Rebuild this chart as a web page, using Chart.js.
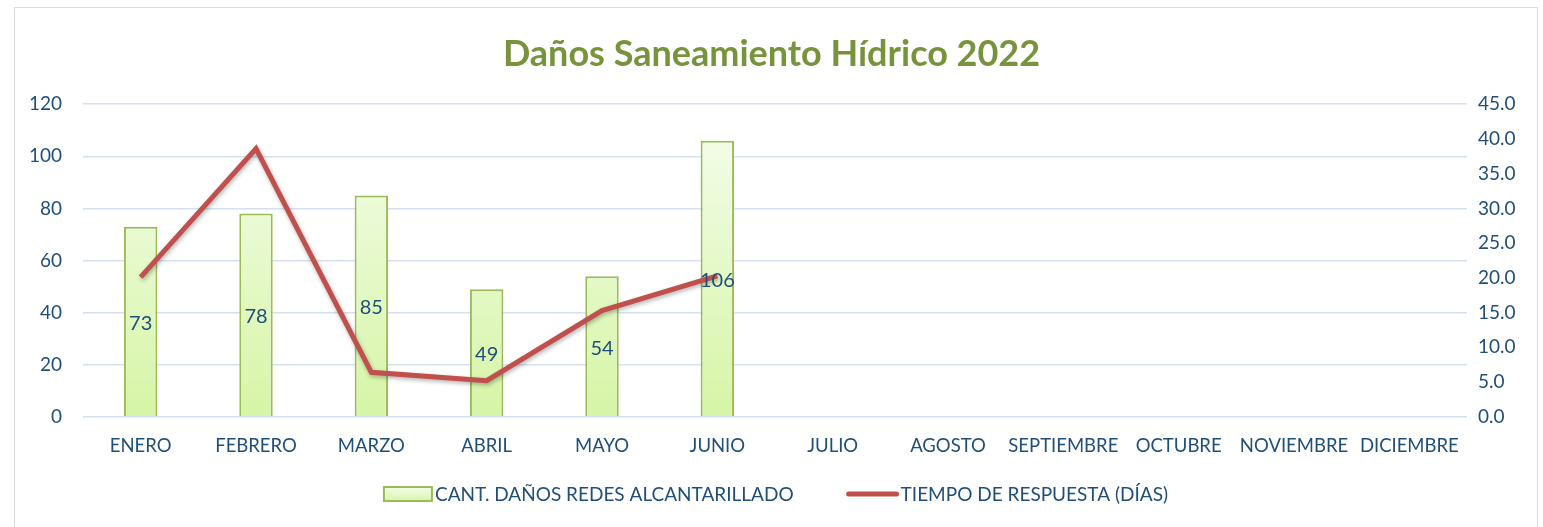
<!DOCTYPE html>
<html>
<head>
<meta charset="utf-8">
<script src="https://cdn.jsdelivr.net/npm/chart.js@4"></script>
<style>
  html, body { margin: 0; padding: 0; background: #fff; }
  #wrap { position: relative; width: 1543px; height: 527px; }
  #frame { position: absolute; left: 14px; top: 7px; width: 1522px; height: 530px; border: 1px solid #d9dde3; pointer-events: none; }
</style>
</head>
<body>
<div id="wrap">
  <canvas id="myChart" width="1543" height="527"></canvas>
  <div id="frame"></div>
</div>
<script>
var meses = ['ENERO', 'FEBRERO', 'MARZO', 'ABRIL', 'MAYO', 'JUNIO', 'JULIO', 'AGOSTO', 'SEPTIEMBRE', 'OCTUBRE', 'NOVIEMBRE', 'DICIEMBRE'];
var danos = [73, 78, 85, 49, 54, 106, null, null, null, null, null, null];
var tiempo = [20.1, 38.6, 6.4, 5.2, 15.3, 20.3, null, null, null, null, null, null];

var azul = '#1F4E79';
var fuente = 'Lato, "Open Sans", sans-serif';

// etiquetas de valor en el centro de cada barra
var etiquetas = {
  id: 'etiquetas',
  afterDatasetsDraw: function(chart) {
    var ctx = chart.ctx;
    var meta = chart.getDatasetMeta(0);
    ctx.save();
    ctx.font = '20px ' + fuente;
    ctx.fillStyle = azul;
    ctx.textAlign = 'center';
    ctx.textBaseline = 'middle';
    meta.data.forEach(function(bar, i) {
      if (danos[i] == null) return;
      ctx.fillText(danos[i], bar.x, (bar.y + bar.base) / 2 + 2);
    });
    ctx.restore();
  }
};

// sombra de la linea
var sombra = {
  id: 'sombra',
  beforeDatasetDraw: function(chart, args) {
    if (args.index === 1) {
      chart.ctx.save();
      chart.ctx.shadowColor = 'rgba(0,0,0,0.3)';
      chart.ctx.shadowBlur = 4;
      chart.ctx.shadowOffsetX = 1;
      chart.ctx.shadowOffsetY = 2;
    }
  },
  afterDatasetDraw: function(chart, args) {
    if (args.index === 1) chart.ctx.restore();
  }
};

// leyenda abajo
var leyenda = {
  id: 'leyenda',
  afterDraw: function(chart) {
    var ctx = chart.ctx;
    var y = 494;
    ctx.save();
    ctx.font = '19px ' + fuente;
    ctx.textBaseline = 'middle';
    var t1 = chart.data.datasets[0].label;
    var t2 = chart.data.datasets[1].label;
    var w1 = ctx.measureText(t1).width, w2 = ctx.measureText(t2).width;
    var total = 48 + 3 + w1 + 55 + 50 + 3 + w2;
    var x = (chart.width - total) / 2 + 5;
    var g = ctx.createLinearGradient(0, y - 7, 0, y + 7);
    g.addColorStop(0, '#F4FCEA');
    g.addColorStop(1, '#D8F5AC');
    ctx.fillStyle = g;
    ctx.fillRect(x, y - 7, 48, 14);
    ctx.strokeStyle = '#9BBB59';
    ctx.lineWidth = 2;
    ctx.strokeRect(x, y - 7, 48, 14);
    ctx.fillStyle = azul;
    ctx.fillText(t1, x + 51, y + 1);
    x += 51 + w1 + 55;
    ctx.strokeStyle = '#C0504D';
    ctx.lineWidth = 5;
    ctx.lineCap = 'round';
    ctx.beginPath();
    ctx.moveTo(x, y);
    ctx.lineTo(x + 48, y);
    ctx.stroke();
    ctx.fillText(t2, x + 52, y + 1);
    ctx.restore();
  }
};

var ctx = document.getElementById('myChart').getContext('2d');
var myChart = new Chart(ctx, {
  type: 'bar',
  data: {
    labels: meses,
    datasets: [{
      type: 'bar',
      label: 'CANT. DAÑOS REDES ALCANTARILLADO',
      data: danos,
      yAxisID: 'y',
      order: 2,
      backgroundColor: function(c) {
        var area = c.chart.chartArea;
        if (!area) return '#E4F8C4';
        var g = c.chart.ctx.createLinearGradient(0, area.top, 0, area.bottom);
        g.addColorStop(0, '#F6FDEE');
        g.addColorStop(1, '#D6F5A6');
        return g;
      },
      borderColor: '#9BBB59',
      borderWidth: 2,
      barPercentage: 0.29,
      categoryPercentage: 1
    }, {
      type: 'line',
      label: 'TIEMPO DE RESPUESTA (DÍAS)',
      data: tiempo,
      yAxisID: 'y1',
      order: 1,
      borderColor: '#C0504D',
      backgroundColor: '#C0504D',
      borderWidth: 5,
      pointRadius: 0,
      tension: 0,
      spanGaps: false
    }]
  },
  options: {
    responsive: false,
    animation: false,
    layout: { padding: { left: 0, right: 0, top: 0, bottom: 60 } },
    scales: {
      x: {
        grid: { display: false },
        border: { display: false },
        ticks: { color: azul, font: { family: fuente, size: 18.5 }, padding: 10, maxRotation: 0, autoSkip: false }
      },
      y: {
        position: 'left',
        min: 0,
        max: 120,
        ticks: { stepSize: 20, color: azul, font: { family: fuente, size: 19 }, padding: 21 },
        grid: { color: '#D6E0F0', lineWidth: 1.5, drawTicks: false },
        border: { display: false },
        afterFit: function(s) { s.width = 83; }
      },
      y1: {
        position: 'right',
        min: 0,
        max: 45,
        ticks: {
          stepSize: 5, color: azul, font: { family: fuente, size: 19 }, padding: 11,
          callback: function(v) { return v.toFixed(1); }
        },
        grid: { display: false, drawTicks: false },
        border: { display: false },
        afterFit: function(s) { s.width = 76; }
      }
    },
    plugins: {
      legend: { display: false },
      tooltip: { enabled: false },
      title: {
        display: true,
        text: 'Daños Saneamiento Hídrico 2022',
        color: '#77933C',
        font: { family: fuente, size: 36, weight: 'bold' },
        padding: { top: 33, bottom: 28 }
      }
    }
  },
  plugins: [etiquetas, sombra, leyenda]
});
</script>
</body>
</html>
